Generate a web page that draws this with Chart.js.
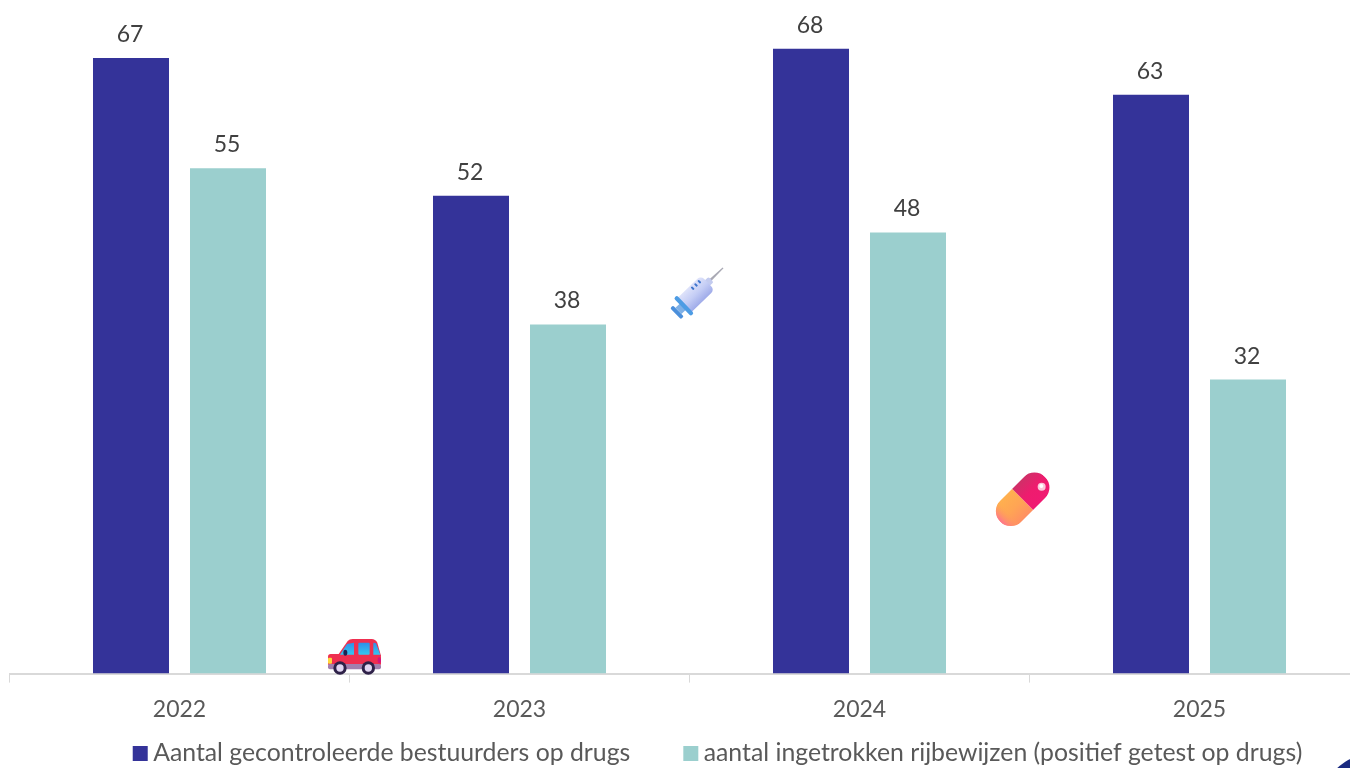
<!DOCTYPE html>
<html><head><meta charset="utf-8">
<style>html,body{margin:0;padding:0;background:#fff;overflow:hidden;width:1350px;height:768px}
#wrap{position:absolute;left:0;top:0;width:1380px;height:831px}</style>
<script src="https://cdn.jsdelivr.net/npm/chart.js@4"></script>
</head><body><div id="wrap"><canvas id="c" width="1380" height="831"></canvas></div>
<script>
const categories = ['2022','2023','2024','2025'];
const controlled = [67,52,68,63];
const revoked = [55,38,48,32];
const seriesNames = ['Aantal gecontroleerde bestuurders op drugs','aantal ingetrokken rijbewijzen (positief getest op drugs)'];
const FONT = 'Lato, Carlito, sans-serif';

function grad(ctx,x0,y0,x1,y1,stops){const g=ctx.createLinearGradient(x0,y0,x1,y1);stops.forEach((s,i)=>g.addColorStop(i/(stops.length-1),s));return g;}
function rr(ctx,x,y,w,h,r){ctx.beginPath();ctx.roundRect(x,y,w,h,r);ctx.fill();}

function drawCar(ctx){
  ctx.save();ctx.translate(300,620);ctx.scale(1/3,1/3);
  ctx.fillStyle='#ef2f50';
  ctx.beginPath();ctx.moveTo(112,108);ctx.lineTo(143,63);ctx.quadraticCurveTo(148,57,158,57);ctx.lineTo(215,57);ctx.quadraticCurveTo(226,57,232,68);ctx.lineTo(243,108);ctx.closePath();ctx.fill();
  rr(ctx,84,102,159,36,8);
  ctx.fillStyle='#a27fae';rr(ctx,84,132,159,16,6);
  ctx.fillStyle=grad(ctx,0,68,0,104,['#2f8fe8','#35c6f0']);
  ctx.beginPath();ctx.moveTo(120,104);ctx.lineTo(141,72);ctx.lineTo(162,68);ctx.lineTo(162,104);ctx.closePath();ctx.fill();
  rr(ctx,175,68,34,36,3);
  ctx.beginPath();ctx.moveTo(220,68);ctx.lineTo(228,70);ctx.lineTo(241,104);ctx.lineTo(220,104);ctx.closePath();ctx.fill();
  ctx.fillStyle='#1f2450';ctx.beginPath();ctx.ellipse(136,98,6,9,0,0,7);ctx.fill();
  ctx.fillStyle='#ffd83b';rr(ctx,84,113,12,18,3);
  ctx.fillStyle='#d6127c';ctx.beginPath();ctx.ellipse(238,121,5,9,0,0,7);ctx.fill();
  [120,205].forEach(x=>{ctx.fillStyle='#2e2148';ctx.beginPath();ctx.arc(x,144,20,0,7);ctx.fill();ctx.fillStyle='#e2d6f2';ctx.beginPath();ctx.arc(x,144,11,0,7);ctx.fill();});
  ctx.restore();
}
function drawSyringe(ctx){
  ctx.save();ctx.translate(650,250);ctx.scale(1/3,1/3);ctx.translate(140,130);ctx.rotate(-44*Math.PI/180);
  ctx.fillStyle='#a9a9b4';ctx.beginPath();ctx.moveTo(56,-4);ctx.lineTo(110,-2);ctx.lineTo(110,2);ctx.lineTo(56,4);ctx.closePath();ctx.fill();
  ctx.fillStyle='#c3cbef';rr(ctx,40,-11,20,22,5);
  ctx.fillStyle=grad(ctx,0,-30,0,30,['#dfe3fa','#c4cdf5','#9fabe9']);rr(ctx,-50,-30,96,60,[0,14,14,0]);
  ctx.fillStyle='#3f76cc';[2,16,30].forEach(x=>rr(ctx,x-3,-25,6,11,2));
  ctx.fillStyle='#7fb0e6';ctx.fillRect(-76,-13,20,26);
  ctx.fillStyle='#4d9ce4';rr(ctx,-60,-37,13,74,6);
  ctx.fillStyle='#4b8fdb';rr(ctx,-88,-23,12,46,4);
  ctx.restore();
}
function drawPill(ctx){
  ctx.save();ctx.translate(980,460);ctx.scale(1/3,1/3);ctx.translate(128,118);ctx.rotate(-45*Math.PI/180);
  const L=50,R=45;
  ctx.save();ctx.beginPath();ctx.roundRect(-L-R,-R,2*(L+R),2*R,R);ctx.clip();
  ctx.fillStyle=grad(ctx,-40,-45,-40,45,['#ffb04f','#ffa554','#ff8f62']);ctx.fillRect(-L-R,-R,L+R,2*R);
  ctx.fillStyle=grad(ctx,-96,0,-56,0,['#ff6f94','#ffa05500']);ctx.fillRect(-L-R,-R,40,2*R);
  ctx.fillStyle=grad(ctx,0,-45,0,45,['#cf3068','#ee1c6e','#f01a72']);ctx.fillRect(0,-R,L+R,2*R);
  ctx.restore();
  ctx.rotate(45*Math.PI/180);
  ctx.fillStyle='#fbc6d9';ctx.beginPath();ctx.arc(57,-38,12,0,7);ctx.fill();
  ctx.fillStyle='#fff';ctx.beginPath();ctx.arc(56,-40,6,0,7);ctx.fill();
  ctx.restore();
}
const decor={id:'decor',afterDraw(chart){const ctx=chart.ctx;
  drawCar(ctx);drawSyringe(ctx);drawPill(ctx);
  ctx.save();ctx.fillStyle='#1a2a80';ctx.beginPath();ctx.arc(1375,808,55,0,7);ctx.fill();ctx.restore();
}};
const valueLabels={id:'valueLabels',afterDatasetsDraw(chart){const ctx=chart.ctx;
  ctx.save();ctx.font='23px '+FONT;ctx.fillStyle='#404040';ctx.textAlign='center';ctx.textBaseline='alphabetic';
  chart.data.datasets.forEach((ds,i)=>chart.getDatasetMeta(i).data.forEach((el,j)=>ctx.fillText(String(ds.data[j]),el.x-1,el.y-16)));
  ctx.restore();
}};
const legendShift={id:'legendShift',afterLayout(chart){const l=chart.legend,h=l.bottom-l.top;l.left+=31.5;l.right+=31.5;l.top=681;l.bottom=681+h;}};

new Chart(document.getElementById('c'),{
  type:'bar',
  data:{labels:categories,datasets:[
    {label:seriesNames[0],data:controlled,backgroundColor:'#343399',categoryPercentage:0.5706,barPercentage:0.7835},
    {label:seriesNames[1],data:revoked,backgroundColor:'#9BCFCE',categoryPercentage:0.5706,barPercentage:0.7835}
  ]},
  options:{responsive:false,animation:false,
    layout:{padding:{left:9.5,right:10.5,top:0,bottom:0}},
    plugins:{tooltip:{enabled:false},title:{display:false},
      legend:{position:'bottom',labels:{font:{family:FONT,size:24.8},color:'#595959',boxWidth:1,boxHeight:1,padding:60,
        generateLabels(chart){return chart.data.datasets.map((ds,i)=>({text:ds.label,fillStyle:ds.backgroundColor,strokeStyle:ds.backgroundColor,lineWidth:14,fontColor:'#595959',datasetIndex:i,hidden:false}));}}}},
    scales:{
      x:{grid:{display:true,drawOnChartArea:false,drawTicks:true,tickLength:9,color:'#d9d9d9',lineWidth:1},
         border:{color:'#d9d9d9',width:2},
         ticks:{color:'#595959',font:{family:FONT,size:23},padding:13,maxRotation:0}},
      y:{display:false,min:0,max:73.3}
    }
  },
  plugins:[valueLabels,decor,legendShift]
});
</script></body></html>
